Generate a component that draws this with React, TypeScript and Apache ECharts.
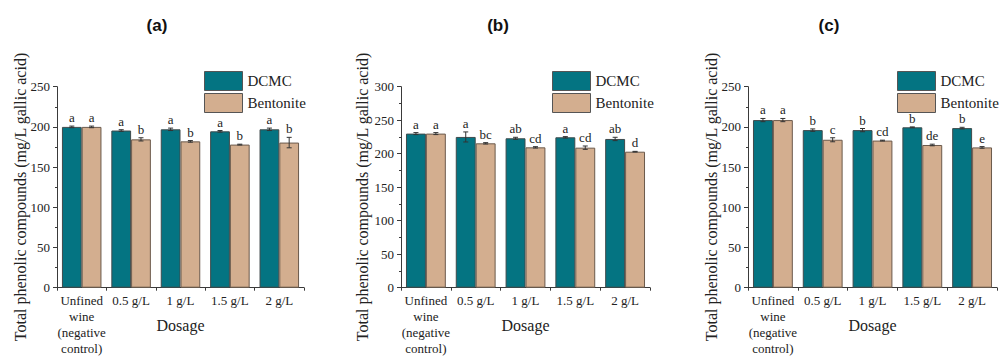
import React, { useEffect, useRef } from "react";
import * as echarts from "echarts";

const categories = ["Unfined\nwine\n(negative\ncontrol)", "0.5 g/L", "1 g/L", "1.5 g/L", "2 g/L"];
const seriesNames = ["DCMC", "Bentonite"];
const panelTitles = ["(a)", "(b)", "(c)"];
const yMax = [250, 300, 250];
const yTicks = 50;

// Panel (a)
const dcmcA = [200, 195.5, 197, 194.5, 197];
const bentA = [200, 184.5, 182, 178, 180.5];
const dcmcErrA = [1, 1, 1.5, 1, 1.5];
const bentErrA = [1, 2, 1, 0.5, 6.5];
const dcmcLetA = ["a", "a", "a", "a", "a"];
const bentLetA = ["a", "b", "b", "b", "b"];

// Panel (b)
const dcmcB = [230, 225, 223, 224.5, 222];
const bentB = [230, 215.5, 209.5, 209, 203];
const dcmcErrB = [1.5, 7.5, 1.5, 1, 2.5];
const bentErrB = [1.5, 1, 1, 2.5, 0.5];
const dcmcLetB = ["a", "a", "ab", "a", "ab"];
const bentLetB = ["a", "bc", "cd", "cd", "d"];

// Panel (c)
const dcmcC = [208.5, 196, 196, 199.5, 198.5];
const bentC = [208.5, 184, 183, 177.5, 174.5];
const dcmcErrC = [2, 1.5, 2, 0.5, 1];
const bentErrC = [2, 2.5, 0.5, 1, 1];
const dcmcLetC = ["a", "b", "b", "b", "b"];
const bentLetC = ["a", "c", "cd", "de", "e"];

const panelData = [
  { dcmc: dcmcA, bent: bentA, dErr: dcmcErrA, bErr: bentErrA, dLet: dcmcLetA, bLet: bentLetA },
  { dcmc: dcmcB, bent: bentB, dErr: dcmcErrB, bErr: bentErrB, dLet: dcmcLetB, bLet: bentLetB },
  { dcmc: dcmcC, bent: bentC, dErr: dcmcErrC, bErr: bentErrC, dLet: dcmcLetC, bLet: bentLetC },
];

const layout = [
  { left: 57, width: 247, legendLeft: 204, titleX: 157, yTitleX: 20 },
  { left: 401, width: 249, legendLeft: 552, titleX: 498, yTitleX: 362 },
  { left: 748, width: 249, legendLeft: 897, titleX: 829, yTitleX: 711 },
];

const SERIF = "'Liberation Serif', 'DejaVu Serif', serif";
const TEAL = "#047482";
const TAN = "#D3AE8F";
const AXIS = "#3a3a3a";

function makeErrSeries(gi: number, vals: number[], errs: number[], lets: string[], side: number) {
  return {
    type: "custom",
    xAxisIndex: gi,
    yAxisIndex: gi,
    z: 10,
    silent: true,
    encode: { x: 0, y: 1 },
    data: vals.map((v, i) => [i, v, errs[i], side]),
    renderItem: (params: any, api: any) => {
      const idx = api.value(0);
      const v = api.value(1);
      const e = api.value(2);
      const s = api.value(3);
      const c = api.coord([idx, v]);
      const band = api.size([1, 0])[0];
      const x = c[0] + s * band * 0.2;
      const top = api.coord([idx, v + e])[1];
      const bot = api.coord([idx, v - e])[1];
      const cap = 2.5;
      const st = { stroke: "#333", lineWidth: 1 };
      return {
        type: "group",
        children: [
          { type: "line", shape: { x1: x, y1: top, x2: x, y2: bot }, style: st },
          { type: "line", shape: { x1: x - cap, y1: top, x2: x + cap, y2: top }, style: st },
          { type: "line", shape: { x1: x - cap, y1: bot, x2: x + cap, y2: bot }, style: st },
          {
            type: "text",
            x: x,
            y: top - 2,
            style: {
              text: lets[params.dataIndex],
              align: "center",
              verticalAlign: "bottom",
              font: `13px ${SERIF}`,
              fill: "#222",
            },
          },
        ],
      };
    },
  };
}

export default function App() {
  const ref = useRef<HTMLDivElement>(null);
  useEffect(() => {
    if (!ref.current) return;
    const chart = echarts.init(ref.current, null, { renderer: "svg" });
    const grids = layout.map((l) => ({
      left: l.left,
      width: l.width,
      top: 86.7,
      height: 201,
      containLabel: false,
      outerBoundsMode: "none",
    }));
    const xAxes = layout.map((l, gi) => ({
      type: "category",
      gridIndex: gi,
      data: categories,
      axisLine: { lineStyle: { color: AXIS, width: 1 } },
      axisTick: { show: true, length: 3, interval: 0, lineStyle: { color: AXIS } },
      axisLabel: { interval: 0, fontFamily: SERIF, fontSize: 13, color: "#222", lineHeight: 16, margin: 5 },
      name: "Dosage",
      nameLocation: "middle",
      nameGap: 30,
      nameMoveOverlap: false,
      nameTextStyle: { fontFamily: SERIF, fontSize: 16, color: "#222" },
    }));
    const yAxes = layout.map((l, gi) => ({
      type: "value",
      gridIndex: gi,
      min: 0,
      max: yMax[gi],
      interval: yTicks,
      axisLine: { show: true, lineStyle: { color: AXIS, width: 1 } },
      axisTick: { show: true, length: 4, lineStyle: { color: AXIS } },
      minorTick: { show: true, splitNumber: 2, length: 2, lineStyle: { color: AXIS } },
      splitLine: { show: false },
      axisLabel: { fontFamily: SERIF, fontSize: 13, color: "#222", margin: 7 },
    }));
    const series: any[] = [];
    panelData.forEach((p, gi) => {
      series.push({
        type: "bar",
        name: seriesNames[0],
        xAxisIndex: gi,
        yAxisIndex: gi,
        data: p.dcmc,
        barGap: "0%",
        barCategoryGap: "20%",
        itemStyle: { color: TEAL, borderColor: "#3f4a4c", borderWidth: 1 },
      });
      series.push({
        type: "bar",
        name: seriesNames[1],
        xAxisIndex: gi,
        yAxisIndex: gi,
        data: p.bent,
        barGap: "0%",
        barCategoryGap: "20%",
        itemStyle: { color: TAN, borderColor: "#6b5a4c", borderWidth: 1 },
      });
      series.push(makeErrSeries(gi, p.dcmc, p.dErr, p.dLet, -1));
      series.push(makeErrSeries(gi, p.bent, p.bErr, p.bLet, 1));
    });
    const legends = layout.map((l) => ({
      orient: "vertical",
      left: l.legendLeft,
      top: 71,
      padding: 0,
      itemWidth: 38,
      itemHeight: 19,
      itemGap: 2,
      icon: "rect",
      selectedMode: false,
      data: seriesNames,
      itemStyle: { borderColor: "#555", borderWidth: 1 },
      textStyle: { fontFamily: SERIF, fontSize: 15, color: "#222" },
    }));
    const graphics: any[] = [];
    layout.forEach((l, gi) => {
      graphics.push({
        type: "text",
        x: l.titleX,
        y: 25,
        style: {
          text: panelTitles[gi],
          align: "center",
          verticalAlign: "middle",
          font: "bold 17px 'Liberation Sans', sans-serif",
          fill: "#111",
        },
      });
      graphics.push({
        type: "text",
        x: l.yTitleX,
        y: 197,
        rotation: Math.PI / 2,
        style: {
          text: "Total phenolic compounds (mg/L gallic acid)",
          align: "center",
          verticalAlign: "middle",
          font: `16px ${SERIF}`,
          fill: "#222",
        },
      });
    });
    chart.setOption({
      animation: false,
      backgroundColor: "#ffffff",
      grid: grids,
      xAxis: xAxes,
      yAxis: yAxes,
      legend: legends,
      series,
      graphic: graphics,
    });
    return () => chart.dispose();
  }, []);
  return (
    <div
      ref={ref}
      style={{ position: "absolute", left: 0, top: 0, width: 1001, height: 356, background: "#fff" }}
    />
  );
}
